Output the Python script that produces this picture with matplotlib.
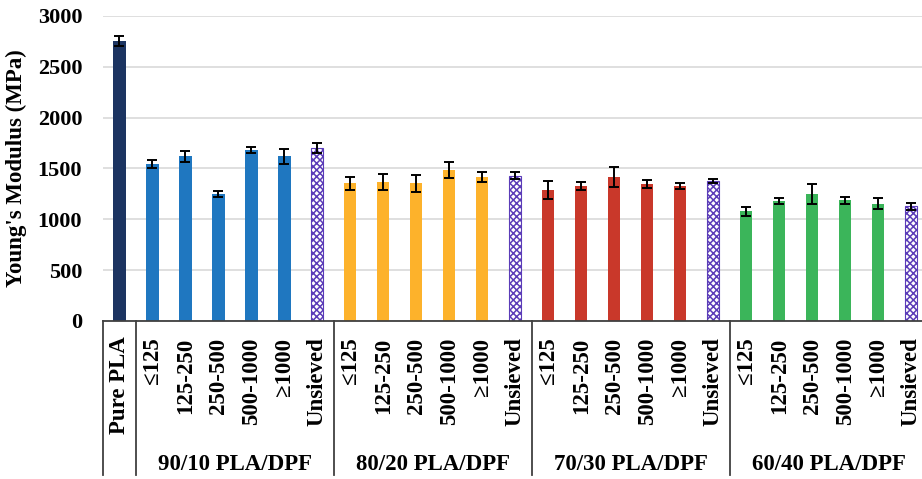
import numpy as np
import matplotlib
matplotlib.use("Agg")
import matplotlib.pyplot as plt
from matplotlib.transforms import blended_transform_factory

plt.rcParams['font.family'] = ['Liberation Serif', 'DejaVu Serif']
plt.rcParams['font.weight'] = 'bold'
plt.rcParams['axes.labelweight'] = 'bold'
plt.rcParams['hatch.linewidth'] = 1.1

# data
sizes = ["\u2264125", "125-250", "250-500", "500-1000", "\u22651000", "Unsieved"]
groups = ["90/10 PLA/DPF", "80/20 PLA/DPF", "70/30 PLA/DPF", "60/40 PLA/DPF"]
pure_pla = 2750
pure_pla_err = 50
g90 = [1544, 1618, 1249, 1681, 1618, 1703]
g90_err = [40, 57, 32, 33, 72, 52]
g80 = [1352, 1367, 1353, 1485, 1413, 1429]
g80_err = [64, 82, 82, 79, 49, 33]
g70 = [1291, 1326, 1420, 1347, 1327, 1374]
g70_err = [88, 38, 98, 37, 27, 20]
g60 = [1079, 1180, 1249, 1187, 1152, 1126]
g60_err = [43, 30, 98, 36, 54, 34]

group_colors = ['#1F77C0', '#FDB22B', '#C9382A', '#3BB55A']
pure_color = '#1C3461'
unsieved_color = '#5B3CB8'

fig = plt.figure(figsize=(9.22, 4.79), dpi=100)
ax = fig.add_axes([0.1117, 0.33, 0.8883, 0.6367])

# first bar is Pure PLA, then 4 groups of 6
ax.bar(0, pure_pla, width=0.37, color=pure_color, zorder=2)
ax.errorbar(0, pure_pla, yerr=pure_pla_err, fmt='none', ecolor='black',
            elinewidth=1.4, capsize=3.5, capthick=1.4, zorder=3)

all_vals = [g90, g80, g70, g60]
all_errs = [g90_err, g80_err, g70_err, g60_err]
for gi, (vals, errs) in enumerate(zip(all_vals, all_errs)):
    xs = np.arange(len(vals)) + 1 + gi * 6
    for j, (x, v) in enumerate(zip(xs, vals)):
        if sizes[j] == "Unsieved":
            ax.bar(x, v, width=0.37, facecolor='white', edgecolor=unsieved_color,
                   hatch='xxxxx', linewidth=0.8, zorder=2)
        else:
            ax.bar(x, v, width=0.37, color=group_colors[gi], zorder=2)
    ax.errorbar(xs, vals, yerr=errs, fmt='none', ecolor='black',
                elinewidth=1.4, capsize=3.5, capthick=1.4, zorder=3)

ax.set_xlim(-0.5, 24.33)
ax.set_ylim(0, 3000)
ax.set_yticks(range(0, 3001, 500))
ax.set_yticklabels([str(v) for v in range(0, 3001, 500)], fontsize=16,
                   fontweight='bold')
ax.tick_params(axis='y', length=0, pad=15)
ax.yaxis.grid(True, color='#D9D9D9', linewidth=1.2, zorder=0)
ax.set_axisbelow(True)
for s in ['top', 'right', 'left']:
    ax.spines[s].set_visible(False)
ax.spines['bottom'].set_color('#404040')
ax.spines['bottom'].set_linewidth(1.3)

ax.set_xticks(np.arange(25))
ax.set_xticklabels([""] + sizes * 4, rotation=90, fontsize=16.5,
                   fontweight='bold')
ax.tick_params(axis='x', length=0, pad=12)

ax.set_ylabel("Young's Modulus (MPa)", fontsize=16.5, fontweight='bold',
              labelpad=8)

trans = blended_transform_factory(ax.transData, ax.transAxes)
ax.text(0, -0.21, "Pure PLA", rotation=90, ha='center', va='center',
        fontsize=16.5, fontweight='bold', transform=trans)
for gi, name in enumerate(groups):
    ax.text(3.5 + gi * 6, -0.472, name, ha='center', va='center',
            fontsize=16.5, fontweight='bold', transform=trans)

# separator lines of the category table below the axis
for xb in [-0.5, 0.5, 6.5, 12.5, 18.5]:
    ax.plot([xb, xb], [0, -0.505], transform=trans, color='#404040',
            linewidth=1.3, clip_on=False)

fig.savefig("out.png", dpi=100)
